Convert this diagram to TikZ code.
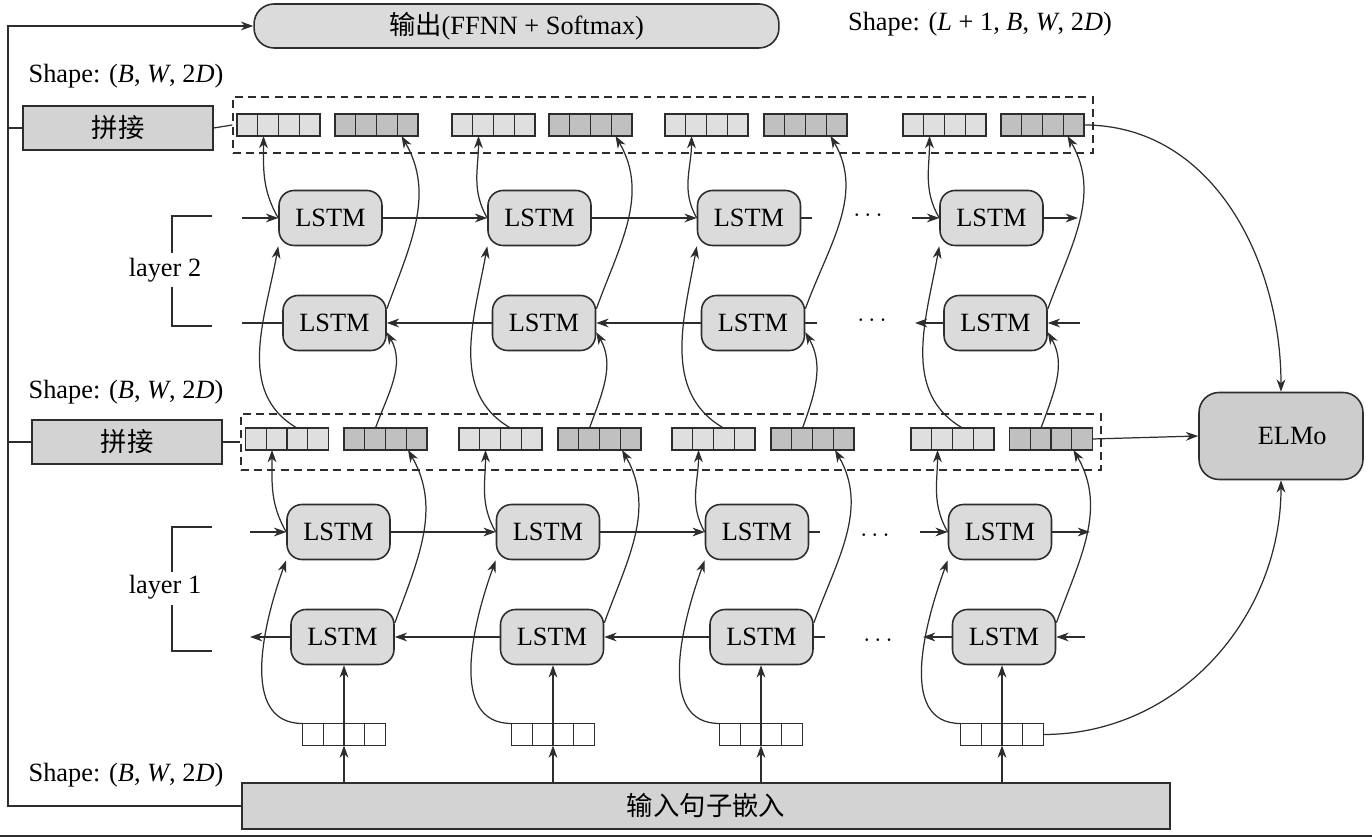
\documentclass[tikz,border=0pt]{standalone}
\usepackage{fontspec}
\setmainfont{Liberation Serif}
\newfontfamily\cjk{Noto Sans CJK SC}
\usetikzlibrary{arrows.meta}
\definecolor{ColLine}{RGB}{45,45,45}
\definecolor{ColLstm}{RGB}{219,219,219}
\definecolor{ColCat}{RGB}{211,211,211}
\definecolor{ColLight}{RGB}{223,223,223}
\definecolor{ColDark}{RGB}{192,192,192}
\definecolor{ColElmo}{RGB}{205,205,205}
\tikzstyle{NodeLstm}=[rectangle,rounded corners=0.3cm,draw=ColLine,fill=ColLstm,line width=0.9pt,
minimum width=2.06cm,minimum height=1.1cm,inner sep=0pt]
\tikzstyle{NodeCat}=[rectangle,draw=ColLine,fill=ColCat,line width=0.9pt,minimum width=3.8cm,
minimum height=0.88cm,inner sep=0pt]
\tikzstyle{NodeVec}=[rectangle,draw=ColLine,line width=0.6pt,minimum width=1.66cm,
minimum height=0.44cm,inner sep=0pt,outer sep=0pt]
\tikzstyle{VecLight}=[NodeVec,fill=ColLight]
\tikzstyle{VecDark}=[NodeVec,fill=ColDark]
\tikzstyle{VecEmb}=[NodeVec,fill=white]
\tikzstyle{CellLine}=[ColLine,line width=0.6pt]
\tikzstyle{DashBox}=[rectangle,draw=ColLine,dash pattern=on 4.5pt off 3pt,line width=0.8pt,
minimum width=17.2cm,minimum height=1.12cm,inner sep=0pt]
\tikzstyle{EdgeWire}=[ColLine,line width=0.7pt]
\tikzstyle{EdgeArrow}=[EdgeWire,-{Stealth[length=7pt,width=5pt,inset=2.2pt]}]

\begin{document}
\begin{tikzpicture}[x=0.02cm,y=0.02cm,font=\fontsize{15}{18}\selectfont]
        \useasboundingbox(0,0)rectangle(1372,837);
        % boxes
        \node[rectangle,rounded corners=0.4cm,draw=ColLine,fill=ColLstm,line width=0.9pt,
        minimum width=10.5cm,minimum height=0.88cm](out)at(516.5,811){{\cjk 输出}(FFNN + Softmax)};
        \node[NodeCat](cat2)at(118,709){\cjk 拼接};
        \node[NodeCat](cat1)at(127,395){\cjk 拼接};
        \node[rectangle,rounded corners=0.4cm,draw=ColLine,fill=ColElmo,line width=0.9pt,
        minimum width=3.28cm,minimum height=1.74cm](elmo)at(1281,401){\hspace{0.45cm}ELMo};
        \node[NodeCat,minimum width=18.56cm,minimum height=0.92cm](inp)at(706,31){\cjk 输入句子嵌入};
        \node[DashBox](dash2)at(663,712){};
        \node[DashBox](dash1)at(671,395){};
        % labels
        \node(shp-top)at(980,813){Shape: (\textit{L} + 1, \textit{B}, \textit{W}, 2\textit{D})};
        \node(shp-2)at(126,761){Shape: (\textit{B}, \textit{W}, 2\textit{D})};
        \node(shp-1)at(126,445){Shape: (\textit{B}, \textit{W}, 2\textit{D})};
        \node(shp-in)at(126,62){Shape: (\textit{B}, \textit{W}, 2\textit{D})};
        \node(lay2)at(165,567){layer 2};
        \node(lay1)at(165,250){layer 1};
        \draw[EdgeWire](212,621)-|(172,584);
        \draw[EdgeWire](172,550)|-(212,511);
        \draw[EdgeWire](212,310)-|(172,265);
        \draw[EdgeWire](172,232)|-(212,186);
        % LSTM cells
        \foreach \i/\xa/\xb/\xc/\xd in {1/330.5/334.5/338.5/342.5,2/539.5/544/548/552,
        3/749/753/757/761.5,4/991.5/995.5/1000/1004}{
            \node[NodeLstm](f2-\i)at(\xa,619){LSTM};
            \node[NodeLstm](b2-\i)at(\xb,514){LSTM};
            \node[NodeLstm](f1-\i)at(\xc,305){LSTM};
            \node[NodeLstm](b1-\i)at(\xd,200){LSTM};
        }
        % vectors
        \foreach \i/\xa/\xb/\xc/\xd/\xe in {1/278.5/376.5/287/385.5/344,2/493.5/590.5/500.5/599.5/553,
        3/706.5/805.5/713.5/812.5/761,4/944.5/1042.5/952.5/1051/1002}{
            \node[VecLight](hl2-\i)at(\xa,712){};
            \node[VecDark](hd2-\i)at(\xb,712){};
            \node[VecLight](hl1-\i)at(\xc,398){};
            \node[VecDark](hd1-\i)at(\xd,398){};
            \node[VecEmb](e-\i)at(\xe,102.5){};
        }
        \foreach \r in {hl2,hd2,hl1,hd1,e}{\foreach \i in {1,...,4}{\foreach \k in {1,2,3}{
            \draw[CellLine]([xshift=\k*0.415cm]\r-\i.south west)--([xshift=\k*0.415cm]\r-\i.north west);
        }}}
        % dots
        \node(dt-f2)at(868,621){$\cdots$};
        \node(dt-b2)at(872,516){$\cdots$};
        \node(dt-f1)at(875,301){$\cdots$};
        \node(dt-b1)at(878,196){$\cdots$};
        % free ends
        \coordinate(lft)at(8,811);
        \coordinate(f2-in)at(242,619);
        \coordinate(b2-out)at(242,514);
        \coordinate(f1-in)at(250,305);
        \coordinate(b1-out)at(250,200);
        \coordinate(f2-s)at(812,619);
        \coordinate(b2-s)at(817,514);
        \coordinate(f1-s)at(820,305);
        \coordinate(b1-s)at(825,200);
        \coordinate(f2-r)at(912,619);
        \coordinate(f2-e)at(1078,619);
        \coordinate(b2-r)at(1080,514);
        \coordinate(b2-e)at(915,514);
        \coordinate(f1-r)at(920,305);
        \coordinate(f1-e)at(1090,305);
        \coordinate(b1-r)at(1085,200);
        \coordinate(b1-e)at(923,200);
        % frame wires
        \draw[EdgeArrow](inp.west)-|(lft)--(out.west);
        \draw[EdgeWire](cat2.west)--(cat2.west-|lft);
        \draw[EdgeWire](cat1.west)--(cat1.west-|lft);
        \draw[EdgeWire](cat2.east)--(dash2.west);
        \draw[EdgeWire](cat1.east)--(dash1.west);
        % recurrent links
        \draw[EdgeArrow](f2-in)--(f2-1.west);
        \draw[EdgeWire](b2-1.west)--(b2-out);
        \draw[EdgeArrow](f1-in)--(f1-1.west);
        \draw[EdgeArrow](b1-1.west)--(b1-out);
        \foreach \i/\j in {1/2,2/3}{
            \draw[EdgeArrow](f2-\i.east)--(f2-\j.west);
            \draw[EdgeArrow](b2-\j.west)--(b2-\i.east);
            \draw[EdgeArrow](f1-\i.east)--(f1-\j.west);
            \draw[EdgeArrow](b1-\j.west)--(b1-\i.east);
        }
        \draw[EdgeWire](f2-3.east)--(f2-s);
        \draw[EdgeWire](b2-3.east)--(b2-s);
        \draw[EdgeWire](f1-3.east)--(f1-s);
        \draw[EdgeWire](b1-3.east)--(b1-s);
        \draw[EdgeArrow](f2-r)--(f2-4.west);
        \draw[EdgeArrow](f2-4.east)--(f2-e);
        \draw[EdgeArrow](b2-r)--(b2-4.east);
        \draw[EdgeArrow](b2-4.west)--(b2-e);
        \draw[EdgeArrow](f1-r)--(f1-4.west);
        \draw[EdgeArrow](f1-4.east)--(f1-e);
        \draw[EdgeArrow](b1-r)--(b1-4.east);
        \draw[EdgeArrow](b1-4.west)--(b1-e);
        % vertical links
        \foreach \i in {1,...,4}{
            \draw[EdgeArrow](e-\i.south|-inp.north)--(e-\i.south);
            \draw[EdgeArrow](e-\i.south)--(e-\i.south|-b1-\i.south);
            \draw[EdgeArrow](e-\i.north west)to[out=180,in=-110](f1-\i.south west);
            \draw[EdgeArrow](f1-\i.west)to[out=120,in=-90]([xshift=-0.3cm]hl1-\i.south);
            \draw[EdgeArrow](b1-\i.15)to[out=70,in=-60]([xshift=0.45cm]hd1-\i.south);
            \draw[EdgeArrow]([xshift=0.2cm]hl1-\i.north)to[out=150,in=-100](f2-\i.south west);
            \draw[EdgeArrow]([xshift=-0.2cm]hd1-\i.north)to[out=70,in=-60](b2-\i.-10);
            \draw[EdgeArrow](f2-\i.west)to[out=120,in=-90]([xshift=-0.3cm]hl2-\i.south);
            \draw[EdgeArrow](b2-\i.15)to[out=70,in=-60]([xshift=0.5cm]hd2-\i.south);
        }
        % to ELMo
        \draw[EdgeArrow](hd2-4.east)to[out=0,in=90](elmo.north);
        \draw[EdgeArrow](hd1-4.east)--(elmo.west);
        \draw[EdgeArrow](e-4.east)to[out=0,in=-90](elmo.south);
        \draw[ColLine,line width=1.2pt](0,1)--(1372,1);
    \end{tikzpicture}
\end{document}
